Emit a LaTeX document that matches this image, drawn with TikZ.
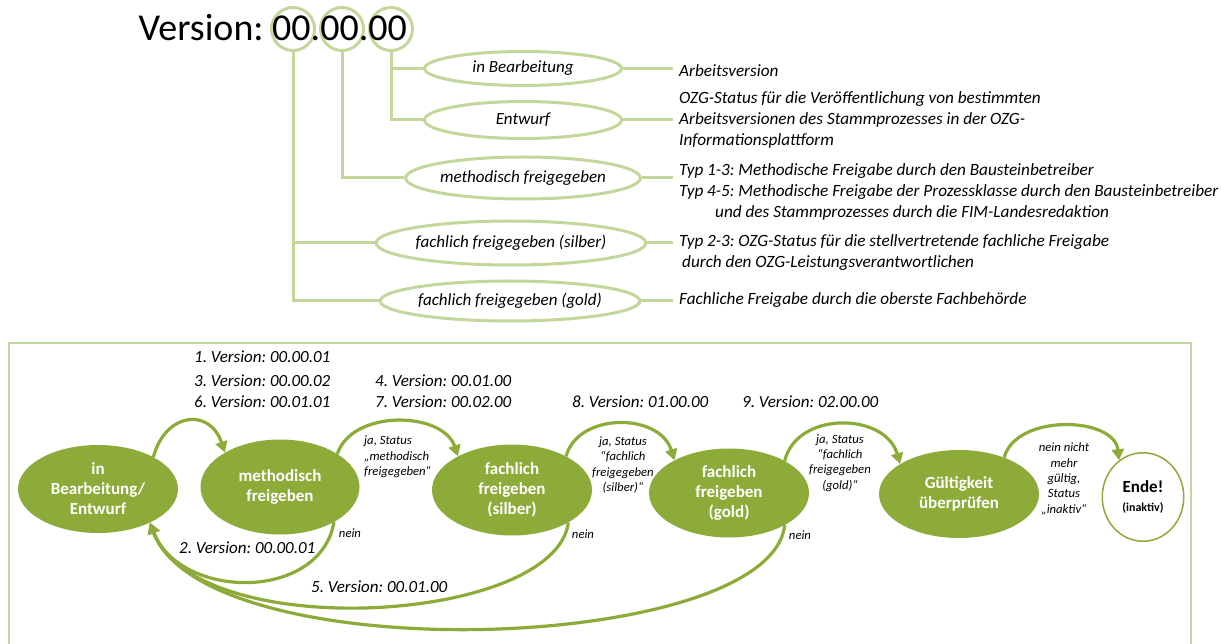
\documentclass[tikz,border=0pt]{standalone}
\usepackage{fontspec}
\setmainfont{Carlito}
\usetikzlibrary{shapes.geometric,arrows.meta}
\definecolor{dgreen}{RGB}{141,171,57}
\definecolor{lgreen}{RGB}{196,215,155}
\frenchspacing
\tikzset{
  light/.style={draw=lgreen, line width=3pt},
  digitring/.style={circle, draw=lgreen, line width=3pt, minimum size=43pt, inner sep=0pt},
  topell/.style={ellipse, draw=lgreen, line width=3pt, inner sep=0pt, font=\fontsize{17}{19}\selectfont\itshape},
  desc/.style={anchor=west, align=left, inner xsep=6pt, inner ysep=0pt, font=\fontsize{17.2}{21}\selectfont\itshape},
  state/.style={ellipse, fill=dgreen, text=white, inner sep=0pt, align=center, font=\fontsize{17}{20}\selectfont\bfseries},
  endstate/.style={ellipse, draw=dgreen, line width=1.5pt, fill=white, text=black, inner sep=0pt, align=center, font=\fontsize{17}{19}\selectfont\bfseries},
  arr/.style={draw=dgreen, line width=3.2pt, -{Triangle[length=11pt,width=12pt]}},
  small/.style={font=\fontsize{12.7}{15.3}\selectfont\itshape, align=center, inner sep=0pt},
  verlab/.style={font=\fontsize{17}{21}\selectfont\itshape, anchor=west, inner sep=0pt},
  frame/.style={draw=lgreen, line width=2.5pt}
}
\begin{document}
\begin{tikzpicture}[x=1pt,y=-1pt]
\useasboundingbox[fill=white] (0,0) rectangle (1221,644);

% ---------- top: version scheme ----------
\node[digitring] (c1) at (293,29) {};
\node[digitring] (c2) at (342,29) {};
\node[digitring] (c3) at (391,29) {};
\node[anchor=base west, inner sep=0pt, font=\fontsize{38}{40}\selectfont] (ver) at (138.5,41) {Version: 00.00.00};

\node[topell, minimum width=197pt, minimum height=34pt] (e1) at (523,68.5) {in Bearbeitung};
\node[topell, minimum width=197pt, minimum height=37pt] (e2) at (523,120) {Entwurf};
\node[topell, minimum width=197pt, minimum height=42pt] (e3) at (523,178) {methodisch freigegeben};
\node[topell, minimum width=222pt, minimum height=44pt] (e4) at (511,243) {fachlich freigegeben (silber)};
\node[topell, minimum width=221pt, minimum height=40pt] (e5) at (510,301) {fachlich freigegeben (gold)};

\draw[light] (c3.south) |- (e1.west);
\draw[light] (c3.south) |- (e2.west);
\draw[light] (c2.south) |- (e3.west);
\draw[light] (c1.south) |- (e4.west);
\draw[light] (c1.south) |- (e5.west);

\node[desc] (d1) at (673,71) {Arbeitsversion};
\node[desc] (d2) at (673,120) {OZG-Status für die Veröffentlichung von bestimmten\\Arbeitsversionen des Stammprozesses in der OZG-\\Informationsplattform};
\node[desc] (d3) at (673,192) {Typ 1-3: Methodische Freigabe durch den Bausteinbetreiber\\Typ 4-5: Methodische Freigabe der Prozessklasse durch den Bausteinbetreiber\\\hspace*{36pt}und des Stammprozesses durch die FIM-Landesredaktion};
\node[desc] (d4) at (673,253) {Typ 2-3: OZG-Status für die stellvertretende fachliche Freigabe\\\hspace*{3pt}durch den OZG-Leistungsverantwortlichen};
\node[desc] (d5) at (673,300) {Fachliche Freigabe durch die oberste Fachbehörde};

\draw[light] (e1.east) -- (e1.east -| d1.west);
\draw[light] (e2.east) -- (e2.east -| d2.west);
\draw[light] (e3.east) -- (e3.east -| d3.west);
\draw[light] (e4.east) -- (e4.east -| d4.west);
\draw[light] (e5.east) -- (e5.east -| d5.west);

% ---------- bottom: life cycle ----------
\draw[frame] (9,343) rectangle (1191,670);

\node[verlab] (v1) at (194,357) {1. Version: 00.00.01};
\node[verlab] (v3) at (194,381) {3. Version: 00.00.02};
\node[verlab] (v6) at (194,402) {6. Version: 00.01.01};
\node[verlab] (v4) at (375,381) {4. Version: 00.01.00};
\node[verlab] (v7) at (375,402) {7. Version: 00.02.00};
\node[verlab] (v8) at (572,402) {8. Version: 01.00.00};
\node[verlab] (v9) at (742,402) {9. Version: 02.00.00};

\node[state, minimum width=160pt, minimum height=88pt] (E1) at (98,489) {in\\Bearbeitung/\\Entwurf};
\node[state, minimum width=159pt, minimum height=95pt] (E2) at (280,487) {methodisch\\freigeben};
\node[state, minimum width=160pt, minimum height=91pt] (E3) at (512,490) {fachlich\\freigeben\\(silber)};
\node[state, minimum width=160pt, minimum height=89pt] (E4) at (729,493) {fachlich\\freigeben\\(gold)};
\node[state, minimum width=160pt, minimum height=88pt] (E5) at (959,494) {Gültigkeit\\überprüfen};
\node[endstate, minimum width=81.5pt, minimum height=88.5pt] (E6) at (1143,497) {Ende!\\{\fontsize{12}{14}\selectfont (inaktiv)}};

% forward arrows
\draw[arr] (E1.30) .. controls +(12,-45) and +(-15,-45) .. (E2.148);
\draw[arr] (E2.30) .. controls +(15,-45) and +(-15,-45) .. (E3.148);
\draw[arr] (E3.32) .. controls +(12,-44) and +(-15,-48) .. (E4.149);
\draw[arr] (E4.30) .. controls +(12,-50) and +(-15,-52) .. (E5.153);
\draw[arr] (E5.39) .. controls +(12,-44) and +(-5,-44) .. (E6.123);

% return arrows
\draw[arr] (E2.327) .. controls (320,602) and (180,600) .. (E1.327);
\draw[arr] (E3.330) .. controls (555,624) and (196,645) .. (E1.327);
\draw[arr] (E4.330) .. controls (770,654) and (206,672) .. (E1.327);

% labels
\node[small, align=left, anchor=west] (l2) at (364,457) {ja, Status\\„methodisch\\freigegeben“};
\node[small] (l3) at (623,465) {ja, Status\\“fachlich\\freigegeben\\(silber)“};
\node[small] (l4) at (840,463) {ja, Status\\“fachlich\\freigegeben\\(gold)“};
\node[small] (l5) at (1064,479) {nein nicht\\mehr\\gültig,\\Status\\„inaktiv“};
\node[small] (n1) at (350,533) {nein};
\node[small] (n2) at (583,534) {nein};
\node[small] (n3) at (800,535) {nein};
\node[verlab] (v2) at (179,548) {2. Version: 00.00.01};
\node[verlab] (v5) at (311,587) {5. Version: 00.01.00};
\end{tikzpicture}
\end{document}
